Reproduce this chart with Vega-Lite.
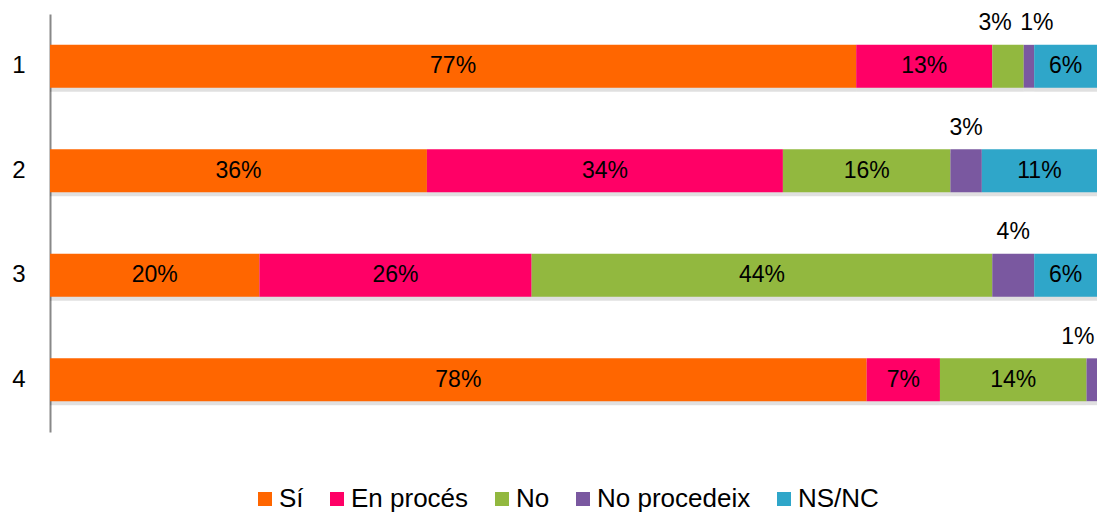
{
  "$schema": "https://vega.github.io/schema/vega-lite/v6.json",
  "width": 1047,
  "height": 418,
  "autosize": "none",
  "padding": {"left": 50, "top": 14, "right": 2, "bottom": 81},
  "config": {
    "font": "Liberation Sans",
    "view": {"stroke": null},
    "text": {"font": "Liberation Sans"}
  },
  "data": {
    "values": [
      {"row": "1", "cat": "Sí", "idx": 1, "value": 77},
      {"row": "1", "cat": "En procés", "idx": 2, "value": 13},
      {"row": "1", "cat": "No", "idx": 3, "value": 3},
      {"row": "1", "cat": "No procedeix", "idx": 4, "value": 1},
      {"row": "1", "cat": "NS/NC", "idx": 5, "value": 6},
      {"row": "2", "cat": "Sí", "idx": 1, "value": 36},
      {"row": "2", "cat": "En procés", "idx": 2, "value": 34},
      {"row": "2", "cat": "No", "idx": 3, "value": 16},
      {"row": "2", "cat": "No procedeix", "idx": 4, "value": 3},
      {"row": "2", "cat": "NS/NC", "idx": 5, "value": 11},
      {"row": "3", "cat": "Sí", "idx": 1, "value": 20},
      {"row": "3", "cat": "En procés", "idx": 2, "value": 26},
      {"row": "3", "cat": "No", "idx": 3, "value": 44},
      {"row": "3", "cat": "No procedeix", "idx": 4, "value": 4},
      {"row": "3", "cat": "NS/NC", "idx": 5, "value": 6},
      {"row": "4", "cat": "Sí", "idx": 1, "value": 78},
      {"row": "4", "cat": "En procés", "idx": 2, "value": 7},
      {"row": "4", "cat": "No", "idx": 3, "value": 14},
      {"row": "4", "cat": "No procedeix", "idx": 4, "value": 1},
      {"row": "4", "cat": "NS/NC", "idx": 5, "value": 0}
    ]
  },
  "transform": [
    {"stack": "value", "groupby": ["row"], "sort": [{"field": "idx", "order": "ascending"}], "as": ["v0", "v1"]},
    {"calculate": "(datum.v0 + datum.v1) / 2", "as": "mid"},
    {"calculate": "datum.value + '%'", "as": "lab"}
  ],
  "encoding": {
    "y": {
      "field": "row",
      "type": "nominal",
      "scale": {"paddingInner": 0.59, "paddingOuter": 0.295},
      "axis": {
        "title": null,
        "ticks": false,
        "labelPadding": 25,
        "labelFontSize": 24,
        "labelColor": "#000000",
        "labelFont": "Liberation Sans",
        "domainColor": "#888888",
        "domainWidth": 2
      }
    }
  },
  "layer": [
    {
      "mark": {"type": "bar", "color": "#000000", "opacity": 0.12, "yOffset": 4},
      "encoding": {
        "x": {"field": "v0", "type": "quantitative", "scale": {"domain": [0, 100], "nice": false, "zero": true}, "axis": null},
        "x2": {"field": "v1"}
      }
    },
    {
      "mark": {"type": "bar"},
      "encoding": {
        "x": {"field": "v0", "type": "quantitative", "scale": {"domain": [0, 100], "nice": false}, "axis": null},
        "x2": {"field": "v1"},
        "color": {
          "field": "cat",
          "type": "nominal",
          "sort": ["Sí", "En procés", "No", "No procedeix", "NS/NC"],
          "scale": {
            "domain": ["Sí", "En procés", "No", "No procedeix", "NS/NC"],
            "range": ["#FF6600", "#FF0066", "#92B83F", "#7A58A0", "#2FA6C9"]
          },
          "legend": {
            "title": null,
            "orient": "none",
            "direction": "horizontal",
            "legendX": 202,
            "legendY": 472,
            "symbolType": "square",
            "symbolSize": 196,
            "symbolStrokeWidth": 0,
            "labelFontSize": 26,
            "labelFont": "Liberation Sans",
            "labelColor": "#000000",
            "labelOffset": 1,
            "columnPadding": 20
          }
        }
      }
    },
    {
      "transform": [{"filter": "datum.value >= 5"}],
      "mark": {"type": "text", "fontSize": 23, "color": "#000000", "baseline": "middle", "align": "center"},
      "encoding": {
        "x": {"field": "mid", "type": "quantitative"},
        "text": {"field": "lab"}
      }
    },
    {
      "transform": [{"filter": "datum.value > 0 && datum.value < 5"}],
      "mark": {
        "type": "text",
        "fontSize": 23,
        "color": "#000000",
        "baseline": "middle",
        "align": "center",
        "dy": -43,
        "dx": {"expr": "datum.row == '1' && datum.cat == 'No' ? -13 : (datum.row == '1' ? 8 : (datum.row == '4' ? -14 : 0))"}
      },
      "encoding": {
        "x": {"field": "mid", "type": "quantitative"},
        "text": {"field": "lab"}
      }
    }
  ]
}
